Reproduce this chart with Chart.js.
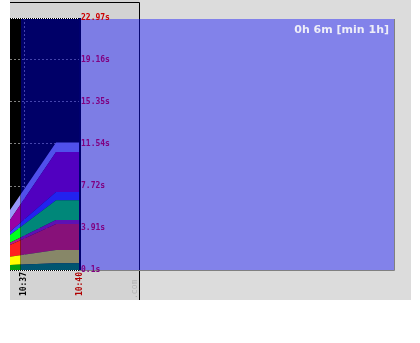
<!DOCTYPE html>
<html>
<head>
<meta charset="utf-8">
<script src="https://cdn.jsdelivr.net/npm/chart.js@4.4.0/dist/chart.umd.min.js"></script>
<style>
  html, body { margin: 0; padding: 0; background: #ffffff; }
  #wrap { width: 420px; height: 343px; }
</style>
</head>
<body>
<div id="wrap"><canvas id="chart" width="420" height="343"></canvas></div>
<script>
// 采样时间
const sampleTimes = ['10:36:15', '10:38:43', '10:40:00'];

// 各层数值（秒），自下而上堆叠
const seriesDarkGreen = [0.55, 0.71, 0.71];
const seriesYellow    = [0.76, 1.20, 1.20];
const seriesRed       = [1.06, 2.36, 2.36];
const seriesPink      = [0.21, 0.36, 0.36];
const seriesGreen     = [0.70, 1.81, 1.81];
const seriesBlue      = [0.30, 0.75, 0.75];
const seriesPurple    = [1.06, 3.63, 3.63];
const seriesLavender  = [0.90, 0.86, 0.86];

// 坐标轴
const xRange = ['10:36:15', '10:40:00'];
const xTickLabels = ['10:37', '10:40'];
const yTickLabels = ['0.1s', '3.91s', '7.72s', '11.54s', '15.35s', '19.16s', '22.97s'];
const shadeStart = '10:36:50';
const spanText = '0h 6m [min 1h]';
const watermark = '.com';

function toMin(t) {
    const p = t.split(':').map(Number);
    return p[0] * 60 + p[1] + (p[2] || 0) / 60;
}

const yTicks = yTickLabels.map(s => parseFloat(s));

const layers = [
    { values: seriesDarkGreen, color: '#00a010' },
    { values: seriesYellow,    color: '#ffff00' },
    { values: seriesRed,       color: '#ff2020' },
    { values: seriesPink,      color: '#b02090' },
    { values: seriesGreen,     color: '#00ff20' },
    { values: seriesBlue,      color: '#4040ff' },
    { values: seriesPurple,    color: '#9a00a6' },
    { values: seriesLavender,  color: '#9898f8' }
];

const monoFont = { family: '"DejaVu Sans Mono", monospace', size: 8, weight: 'bold' };

// 背景、遮罩和边框
const backdrop = {
    id: 'backdrop',
    beforeDraw(chart) {
        const { ctx, chartArea: a } = chart;
        ctx.save();
        ctx.fillStyle = '#ffffff';
        ctx.fillRect(0, 0, chart.width, chart.height);
        ctx.fillStyle = '#d3d3d3';
        ctx.fillRect(a.left, 0, 139 - a.left, 300);
        ctx.fillStyle = '#dcdcdc';
        ctx.fillRect(139, 0, 272, 300);
        ctx.fillStyle = '#000000';
        ctx.fillRect(a.left, a.top, a.right - a.left, a.bottom - a.top);

        ctx.strokeStyle = '#000000';
        ctx.lineWidth = 1;
        ctx.beginPath();
        ctx.moveTo(a.left, 2.5);
        ctx.lineTo(139.5, 2.5);
        ctx.lineTo(139.5, 300);
        ctx.stroke();

        // 水印
        ctx.save();
        ctx.translate(137, 300);
        ctx.rotate(-Math.PI / 2);
        ctx.fillStyle = '#b4b4b4';
        ctx.font = '8px "DejaVu Sans Mono"';
        ctx.textAlign = 'left';
        ctx.textBaseline = 'alphabetic';
        ctx.fillText(watermark, 1, 0);
        ctx.restore();

        // 右侧蓝色遮罩
        ctx.fillStyle = 'rgba(20,20,250,0.45)';
        ctx.fillRect(a.right, a.top + 1, 394 - a.right, a.bottom - a.top - 1);
        ctx.strokeStyle = '#808080';
        ctx.beginPath();
        ctx.moveTo(a.right, a.bottom + 0.5);
        ctx.lineTo(394.5, a.bottom + 0.5);
        ctx.lineTo(394.5, a.top + 1);
        ctx.stroke();

        ctx.fillStyle = '#eeeef8';
        ctx.font = 'bold 11px "DejaVu Sans"';
        ctx.textAlign = 'right';
        ctx.fillText(spanText, 389, 33);
        ctx.restore();
    },
    afterDatasetsDraw(chart) {
        const { ctx, chartArea: a, scales: { x } } = chart;
        const sx = Math.round(x.getPixelForValue(toMin(shadeStart)));
        ctx.save();
        ctx.fillStyle = 'rgba(0,0,220,0.47)';
        ctx.fillRect(sx, a.top, a.right - sx, a.bottom - a.top);
        ctx.fillStyle = 'rgba(0,0,30,0.45)';
        ctx.fillRect(sx - 1, a.top, 1, a.bottom - a.top);
        ctx.fillStyle = '#000070';
        ctx.fillRect(a.right - 1, a.top, 2, a.bottom - a.top);

        // 上下点线
        [a.top + 0.5, a.bottom + 0.5].forEach(y => {
            ctx.strokeStyle = '#ffffff';
            ctx.setLineDash([]);
            ctx.beginPath();
            ctx.moveTo(a.left, y);
            ctx.lineTo(a.right - 1, y);
            ctx.stroke();
            ctx.strokeStyle = '#000000';
            ctx.setLineDash([1, 1]);
            ctx.beginPath();
            ctx.moveTo(a.left, y);
            ctx.lineTo(a.right - 1, y);
            ctx.stroke();
        });
        ctx.restore();
    }
};

const ctx = document.getElementById('chart').getContext('2d');
new Chart(ctx, {
    type: 'line',
    data: {
        datasets: layers.map((l, i) => ({
            data: l.values.map((v, j) => ({ x: toMin(sampleTimes[j]), y: v })),
            backgroundColor: l.color,
            borderWidth: 0,
            pointRadius: 0,
            tension: 0,
            fill: i === 0 ? 'origin' : '-1'
        }))
    },
    options: {
        responsive: false,
        animation: false,
        layout: { padding: { left: 10, top: 18, right: 300, bottom: 43 } },
        plugins: {
            legend: { display: false },
            tooltip: { enabled: false }
        },
        scales: {
            x: {
                type: 'linear',
                min: toMin(xRange[0]),
                max: toMin(xRange[1]),
                afterBuildTicks: s => { s.ticks = xTickLabels.map(t => ({ value: toMin(t) })); },
                afterFit: s => { s.height = 30; },
                grid: { color: '#808080', lineWidth: 1, drawTicks: false },
                border: { display: false, dash: [2, 2] },
                ticks: {
                    autoSkip: false,
                    minRotation: 90,
                    maxRotation: 90,
                    padding: 2,
                    font: monoFont,
                    color: c => c.index === xTickLabels.length - 1 ? '#b00000' : '#000000',
                    callback: (v, i) => xTickLabels[i]
                }
            },
            y: {
                position: 'right',
                stacked: true,
                min: yTicks[0],
                max: yTicks[yTicks.length - 1],
                afterBuildTicks: s => { s.ticks = yTicks.map(v => ({ value: v })); },
                afterFit: s => { s.width = 40; },
                grid: { color: '#808080', lineWidth: 1, drawTicks: false },
                border: { display: false, dash: [2, 2] },
                ticks: {
                    padding: 1,
                    font: monoFont,
                    color: c => c.index === yTickLabels.length - 1 ? '#cc0000' : '#800080',
                    callback: (v, i) => yTickLabels[i]
                }
            }
        }
    },
    plugins: [backdrop]
});
</script>
</body>
</html>
